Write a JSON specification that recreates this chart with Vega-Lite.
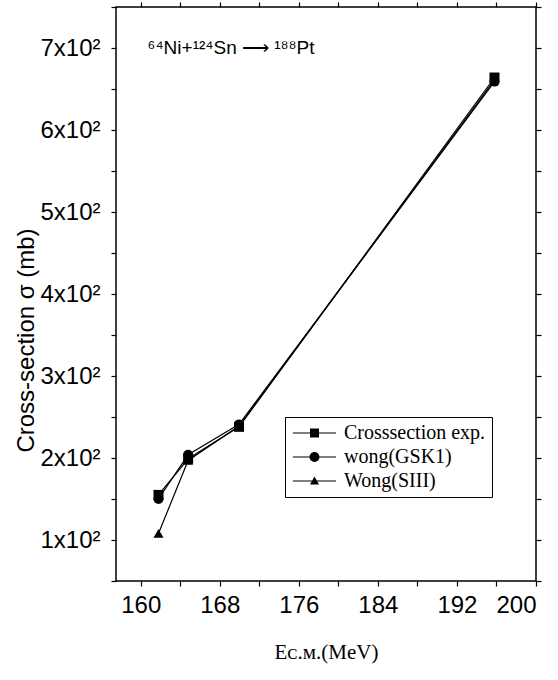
{
  "$schema": "https://vega.github.io/schema/vega-lite/v6.json",
  "width": 420,
  "height": 574,
  "autosize": {"type": "none"},
  "padding": {"left": 116, "top": 7, "right": 22, "bottom": 99},
  "background": "white",
  "config": {
    "view": {"stroke": "black", "strokeWidth": 1.5},
    "axis": {"grid": false, "domain": false, "tickColor": "black", "tickWidth": 1.2, "labelColor": "black", "titleColor": "black"}
  },
  "datasets": {
    "pts": [
      {"series": "Crosssection exp.", "E": 161.8, "sigma": 155},
      {"series": "Crosssection exp.", "E": 164.8, "sigma": 199},
      {"series": "Crosssection exp.", "E": 169.95, "sigma": 238},
      {"series": "Crosssection exp.", "E": 195.8, "sigma": 664},
      {"series": "wong(GSK1)", "E": 161.8, "sigma": 150},
      {"series": "wong(GSK1)", "E": 164.8, "sigma": 204},
      {"series": "wong(GSK1)", "E": 169.95, "sigma": 241},
      {"series": "wong(GSK1)", "E": 195.8, "sigma": 659},
      {"series": "Wong(SIII)", "E": 161.8, "sigma": 108},
      {"series": "Wong(SIII)", "E": 164.8, "sigma": 197},
      {"series": "Wong(SIII)", "E": 169.95, "sigma": 239},
      {"series": "Wong(SIII)", "E": 195.8, "sigma": 661}
    ],
    "ann": [{"x": 160.7, "y": 700, "label": "⁶⁴Ni+¹²⁴Sn ⟶ ¹⁸⁸Pt"}]
  },
  "layer": [
    {
      "data": {"name": "pts"},
      "mark": {"type": "line", "color": "black", "strokeWidth": 1.2},
      "encoding": {
        "x": {"field": "E", "type": "quantitative", "scale": {"domain": [157.5, 200], "nice": false, "zero": false},
          "axis": {"orient": "bottom", "values": [160, 164, 168, 172, 176, 180, 184, 188, 192, 196, 200],
            "labelExpr": "datum.value % 8 == 0 ? datum.value : ''",
            "labelFont": "Liberation Sans", "labelFontSize": 24, "tickSize": 5, "labelPadding": 7,
            "title": "Eᴄ.ᴍ.(MeV)", "titleFont": "Liberation Serif", "titleFontSize": 21, "titleFontWeight": "normal",
            "titleY": 77, "titleBaseline": "alphabetic"}},
        "y": {"field": "sigma", "type": "quantitative", "scale": {"domain": [50, 750], "nice": false, "zero": false},
          "axis": {"orient": "left", "values": [50, 100, 150, 200, 250, 300, 350, 400, 450, 500, 550, 600, 650, 700, 750],
            "labelExpr": "datum.value % 100 == 0 ? (datum.value / 100) + 'x10²' : ''",
            "labelFont": "Liberation Sans", "labelFontSize": 24, "tickSize": 5, "labelPadding": 11,
            "title": "Cross-section σ (mb)", "titleFont": "Liberation Sans", "titleFontSize": 24, "titleFontWeight": "normal",
            "titleX": -83, "titleY": 333, "titleAngle": -90, "titleAlign": "center", "titleBaseline": "alphabetic"}},
        "detail": {"field": "series", "type": "nominal"}
      }
    },
    {
      "data": {"name": "pts"},
      "mark": {"type": "point", "filled": true, "color": "black", "opacity": 1, "size": 100},
      "encoding": {
        "x": {"field": "E", "type": "quantitative", "scale": {"domain": [157.5, 200], "nice": false, "zero": false},
          "axis": {"orient": "top", "values": [160, 164, 168, 172, 176, 180, 184, 188, 192, 196, 200], "labels": false, "tickSize": 5, "title": null}},
        "y": {"field": "sigma", "type": "quantitative", "scale": {"domain": [50, 750], "nice": false, "zero": false},
          "axis": {"orient": "right", "values": [50, 100, 150, 200, 250, 300, 350, 400, 450, 500, 550, 600, 650, 700, 750], "labels": false, "tickSize": 5, "title": null}},
        "shape": {"field": "series", "type": "nominal",
          "scale": {"domain": ["Crosssection exp.", "wong(GSK1)", "Wong(SIII)"], "range": ["square", "circle", "triangle-up"]},
          "legend": null}
      }
    },
    {
      "data": {"name": "pts"},
      "mark": {"type": "point", "filled": true, "color": "black", "opacity": 0},
      "encoding": {
        "x": {"field": "E", "type": "quantitative", "scale": {"domain": [157.5, 200], "nice": false, "zero": false}, "axis": null},
        "y": {"field": "sigma", "type": "quantitative", "scale": {"domain": [50, 750], "nice": false, "zero": false}, "axis": null},
        "shape": {"field": "series", "type": "nominal",
          "scale": {"domain": ["Crosssection exp.", "wong(GSK1)", "Wong(SIII)"],
            "range": [
              "M-0.9,-0.065H3.9V0.065H-0.9ZM1,-0.5H2V0.5H1Z",
              "M-0.9,-0.065H3.9V0.065H-0.9ZM2.05,0A0.55,0.55 0 1,1 0.95,0A0.55,0.55 0 1,1 2.05,0Z",
              "M-0.9,-0.065H3.9V0.065H-0.9ZM1.5,-0.5L2,0.4H1Z"
            ]},
          "legend": {"orient": "none", "legendX": 169, "legendY": 410, "title": null,
            "symbolSize": 324, "symbolStrokeWidth": 0, "symbolFillColor": "black", "symbolOpacity": 1,
            "labelFont": "Liberation Serif", "labelFontSize": 20, "labelColor": "black", "labelOffset": 33,
            "padding": 6, "rowPadding": 4, "strokeColor": "black", "fillColor": "white",
            "encode": {"symbols": {"update": {"fill": {"value": "black"}, "opacity": {"value": 1}}}}}}
      }
    },
    {
      "data": {"name": "ann"},
      "mark": {"type": "text", "align": "left", "baseline": "middle", "font": "Liberation Sans", "fontSize": 19, "color": "black"},
      "encoding": {
        "x": {"field": "x", "type": "quantitative", "scale": {"domain": [157.5, 200], "nice": false, "zero": false}, "axis": null},
        "y": {"field": "y", "type": "quantitative", "scale": {"domain": [50, 750], "nice": false, "zero": false}, "axis": null},
        "text": {"field": "label"}
      }
    }
  ],
  "resolve": {"scale": {"shape": "independent"}, "axis": {"x": "independent", "y": "independent"}}
}
